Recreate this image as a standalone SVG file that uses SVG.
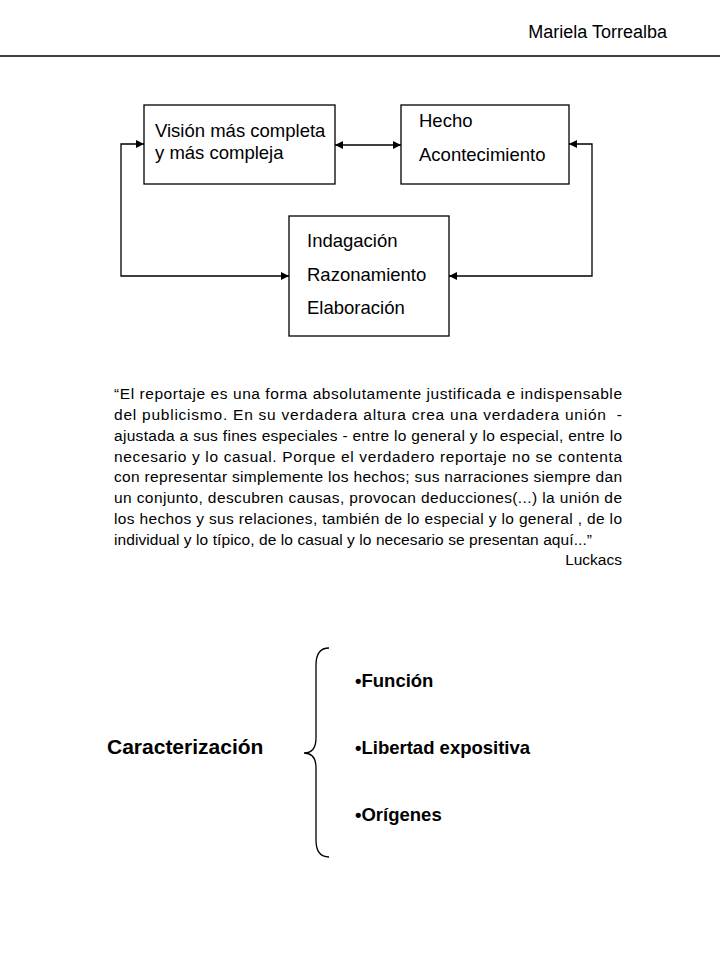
<svg xmlns="http://www.w3.org/2000/svg" width="720" height="960" viewBox="0 0 720 960">
<style>
text{font-family:"Liberation Sans",Arial,sans-serif;fill:#000}
.box{fill:#fff;stroke:#000;stroke-width:1.3}
.bt{font-size:18.5px}
.q{font-size:15.5px}
.b{font-weight:bold;font-size:18.5px}
.con{fill:none;stroke:#000;stroke-width:1.3}
</style>
<defs>
<marker id="ah" viewBox="0 0 10 10" refX="10" refY="5" markerWidth="8" markerHeight="8" markerUnits="userSpaceOnUse" orient="auto-start-reverse">
<path d="M0,0 L10,5 L0,10 Z" fill="#000"/>
</marker>
</defs>
<rect width="720" height="960" fill="#fff"/>
<g id="header">
<text x="667" y="38" font-size="18" text-anchor="end">Mariela Torrealba</text>
<line x1="0" y1="56" x2="720" y2="56" stroke="#000" stroke-width="1.5"/>
</g>
<g id="connectors">
<line class="con" x1="335" y1="145" x2="401" y2="145" marker-start="url(#ah)" marker-end="url(#ah)"/>
<polyline class="con" points="289,276 121,276 121,144 144,144" marker-start="url(#ah)" marker-end="url(#ah)"/>
<polyline class="con" points="449,276 592,276 592,144 569,144" marker-start="url(#ah)" marker-end="url(#ah)"/>
</g>
<g id="node-vision">
<rect class="box" x="144" y="105" width="191" height="79"/>
<text class="bt" x="155" y="137">Visión más completa</text>
<text class="bt" x="155" y="159">y más compleja</text>
</g>
<g id="node-hecho">
<rect class="box" x="401" y="105" width="168" height="79"/>
<text class="bt" x="419" y="127">Hecho</text>
<text class="bt" x="419" y="161">Acontecimiento</text>
</g>
<g id="node-indagacion">
<rect class="box" x="289" y="216" width="160" height="120"/>
<text class="bt" x="307" y="247">Indagación</text>
<text class="bt" x="307" y="281">Razonamiento</text>
<text class="bt" x="307" y="314">Elaboración</text>
</g>
<g id="quote" class="q">
<text class="q" x="114" y="399" textLength="508" lengthAdjust="spacing">“El reportaje es una forma absolutamente justificada e indispensable</text>
<text class="q" x="114" y="420" textLength="508" lengthAdjust="spacing" xml:space="preserve">del publicismo. En su verdadera altura crea una verdadera unión  -</text>
<text class="q" x="114" y="441" textLength="508" lengthAdjust="spacing">ajustada a sus fines especiales - entre lo general y lo especial, entre lo</text>
<text class="q" x="114" y="462" textLength="508" lengthAdjust="spacing">necesario y lo casual. Porque el verdadero reportaje no se contenta</text>
<text class="q" x="114" y="482" textLength="508" lengthAdjust="spacing">con representar simplemente los hechos; sus narraciones siempre dan</text>
<text class="q" x="114" y="503" textLength="508" lengthAdjust="spacing">un conjunto, descubren causas, provocan deducciones(...) la unión de</text>
<text class="q" x="114" y="524" textLength="508" lengthAdjust="spacing">los hechos y sus relaciones, también de lo especial y lo general , de lo</text>
<text class="q" x="114" y="545" textLength="478" lengthAdjust="spacing">individual y lo típico, de lo casual y lo necesario se presentan aquí...”</text>
<text class="q" x="622" y="565" text-anchor="end">Luckacs</text>
</g>
<g id="caracterizacion">
<text x="107" y="754" font-size="21" font-weight="bold">Caracterización</text>
<path d="M329,648 C320,648 316,655 316,665 V738 C316,748 312,753 304,753 C312,753 316,758 316,768 V840 C316,850 320,857 329,857" fill="none" stroke="#000" stroke-width="1.3"/>
<text class="b" x="355" y="687">•Función</text>
<text class="b" x="355" y="754">•Libertad expositiva</text>
<text class="b" x="355" y="821">•Orígenes</text>
</g>
</svg>
